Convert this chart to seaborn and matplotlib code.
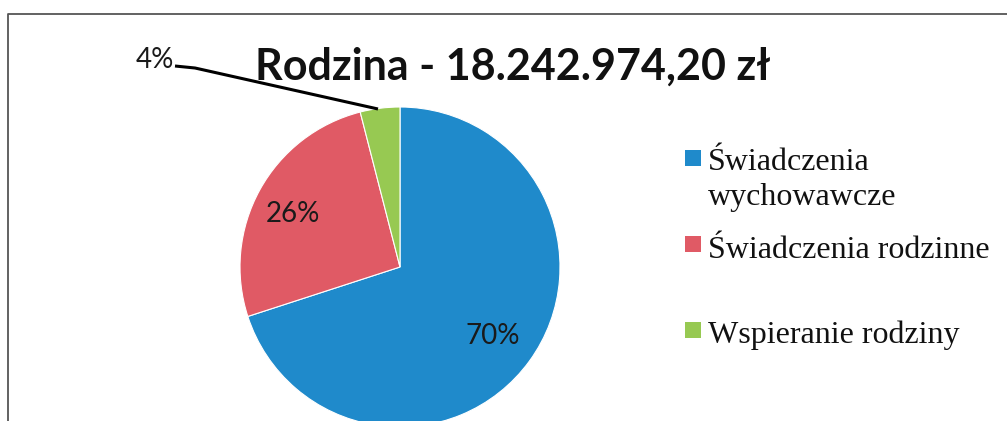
import matplotlib
matplotlib.use("Agg")
import matplotlib.pyplot as plt
from matplotlib.lines import Line2D
from matplotlib.patches import Rectangle
import seaborn as sns

categories = ["Świadczenia\nwychowawcze", "Świadczenia rodzinne", "Wspieranie rodziny"]
shares = [70, 26, 4]
pct_labels = ["70%", "26%", "4%"]
title = "Rodzina - 18.242.974,20 zł"

sns.set_theme(style="white")
colors = ["#1f8acb", "#e05a65", "#97c952"]

W, H = 1007, 421
fig = plt.figure(figsize=(W / 100, H / 100), dpi=100)
fig.patch.set_facecolor("white")

# pie: centre (400, 267) px, radius 160 px
cx, cy, r = 400, 267, 160
ax = fig.add_axes([(cx - r) / W, (H - cy - r) / H, 2 * r / W, 2 * r / H])
wedges, _ = ax.pie(shares, colors=colors, startangle=90, counterclock=False,
                   wedgeprops=dict(linewidth=0.8, edgecolor="white"))
ax.set_xlim(-1, 1)
ax.set_ylim(-1, 1)
ax.set_aspect("auto")
ax.axis("off")
for w in wedges:
    w.set_clip_on(False)

lab_font = dict(family=["Lato", "DejaVu Sans"], fontsize=20, color="#1a1a1a")
ax.text(0.58, -0.43, pct_labels[0], ha="center", va="center", **lab_font)
ax.text(-0.67, 0.33, pct_labels[1], ha="center", va="center", **lab_font)
fig.text(155 / W, 1 - 60 / H, pct_labels[2], ha="center", va="center", **lab_font)
fig.add_artist(Line2D([175 / W, 195 / W, 378 / W], [1 - 66 / H, 1 - 68 / H, 1 - 109 / H],
                      color="black", lw=2.2, solid_capstyle="butt"))

fig.text(513 / W, 1 - 67 / H, title, ha="center", va="center",
         family=["Lato", "DejaVu Sans"], fontweight="bold",
         fontsize=31, color="#111111")

# legend (first-line baselines; multi-line labels step 35 px per line)
mark_y = [158, 244, 330]
base_y = [170, 258, 343]
for lab, col, my, by in zip(categories, colors, mark_y, base_y):
    fig.add_artist(Rectangle((685 / W, 1 - (my + 8) / H), 16 / W, 16 / H,
                             facecolor=col, edgecolor="none", transform=fig.transFigure))
    last_base = by + 35 * lab.count("\n")
    fig.text(708 / W, 1 - last_base / H, lab, ha="left", va="baseline",
             family=["Liberation Serif", "DejaVu Serif"], fontsize=23, color="#111111",
             linespacing=1.27)

# scanned frame border
fig.add_artist(Line2D([8 / W, 8 / W, 1.0], [0.0, 1 - 14 / H, 1 - 14 / H],
                      color="#555555", lw=1.3))

fig.savefig("out.png", dpi=100)
